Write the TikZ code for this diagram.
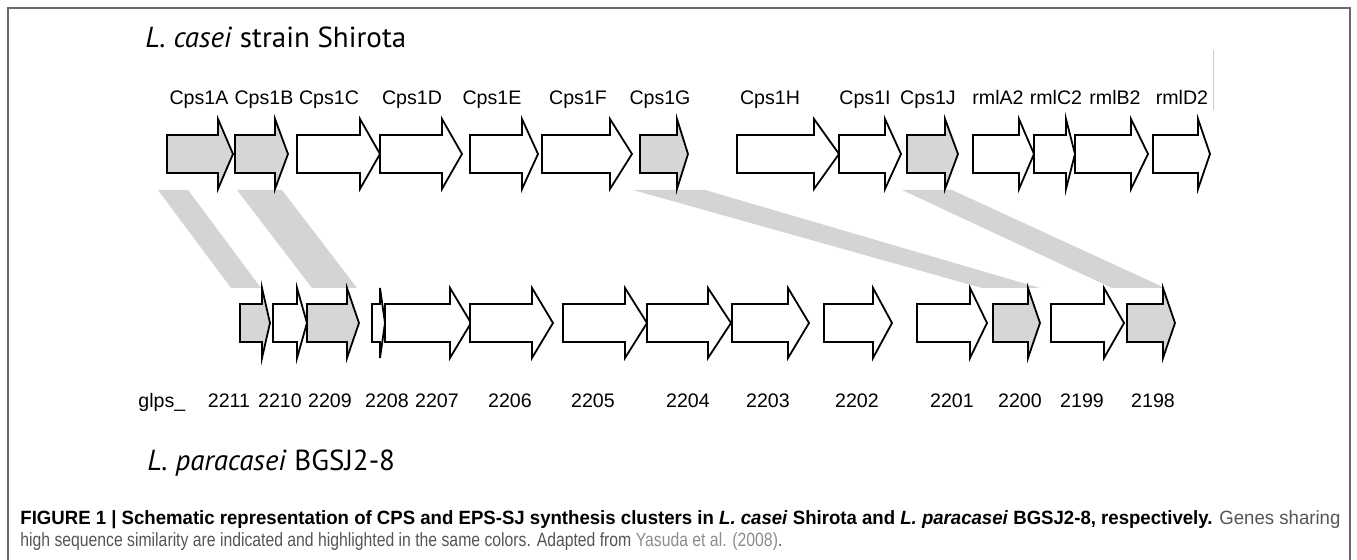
\documentclass[tikz,border=0pt]{standalone}
\usepackage{fontspec}
\setmainfont{Liberation Sans}
\newfontfamily\strainfont{PT Sans}
\usepackage{graphicx}

\definecolor{genegray}{RGB}{214,214,214}
\definecolor{bandgray}{RGB}{212,212,212}
\definecolor{framegray}{RGB}{105,105,105}
\definecolor{capgray}{RGB}{85,85,85}
\definecolor{refgray}{RGB}{140,140,140}

\tikzset{
  gene/.style={draw=black, line width=0.9pt, line join=miter},
  band/.style={fill=bandgray, draw=none},
  genelabel/.style={anchor=base, inner sep=0pt, font=\fontsize{9.8}{12}\selectfont},
  strainlabel/.style={anchor=base west, inner sep=0pt, font=\strainfont\fontsize{14.5}{17}\selectfont},
  caption/.style={anchor=base west, inner sep=0pt, font=\fontsize{9.6}{11}\selectfont},
}

\begin{document}
\begin{tikzpicture}[x=0.5pt, y=-0.5pt]

        \useasboundingbox (0,0) rectangle (1357,560);

        % Frame
        \draw[framegray, line width=0.6pt] (8,560) -- (8,8) -- (1350,8) -- (1350,560);
        \draw[black!20, line width=0.4pt] (1213,50) -- (1213,110);

        % Strain names
        \node[strainlabel] (shirota) at (145,48) {\textit{L. casei} strain Shirota};
        \node[strainlabel] (bgsj) at (147,471) {\textit{L. paracasei} BGSJ2-8};

        % Similarity bands
        \fill[band] (158,190) -- (188,190) -- (261,288) -- (231,288) -- cycle;
        \fill[band] (237,190) -- (282,190) -- (357,288) -- (312,288) -- cycle;
        \fill[band] (633,190) -- (705,190) -- (1040,288) -- (982,288) -- cycle;
        \fill[band] (902,190) -- (952,190) -- (1165,288) -- (1112,288) -- cycle;

        % Cps genes (top row)
        \foreach \l/\b/\t/\c in {167/218/233/genegray, 235/275/288/genegray, 297/360/380/white,
            380/442/462/white, 470/522/538/white, 542/610/632/white, 640/677/688/genegray,
            737/814/839/white, 839/885/901/white, 907/945/958/genegray, 973/1019/1034/white,
            1034/1066/1075/white, 1075/1131/1148/white, 1153/1198/1210/white}
            \draw[gene, fill=\c] (\l,135) -- (\b,135) -- (\b,119) -- (\t,154)
                -- (\b,189) -- (\b,173) -- (\l,173) -- cycle;

        % glps genes (bottom row)
        \foreach \l/\b/\t/\c in {240/262/270/genegray, 273/297/307/white, 307/347/359/genegray,
            372/380/385/white, 385/450/471/white, 470/532/553/white, 563/625/647/white,
            647/708/731/white, 732/788/809/white, 824/873/892/white, 917/970/987/white,
            993/1028/1040/genegray, 1051/1104/1124/white, 1127/1163/1175/genegray}
            \draw[gene, fill=\c] (\l,304) -- (\b,304) -- (\b,288) -- (\t,323)
                -- (\b,358) -- (\b,342) -- (\l,342) -- cycle;

        % Labels for genes
        \foreach \x/\n/\txt in {199/cA/Cps1A, 264/cB/Cps1B, 329/cC/Cps1C, 412/cD/Cps1D,
            492/cE/Cps1E, 578/cF/Cps1F, 660/cG/Cps1G, 770/cH/Cps1H, 865/cI/Cps1I,
            928/cJ/Cps1J, 998/rA/rmlA2, 1056/rC/rmlC2, 1115/rB/rmlB2, 1182/rD/rmlD2}
            \node[genelabel] (\n) at (\x,105) {\txt};

        \node[genelabel, anchor=base west] (glps) at (138,408) {glps\_};
        \foreach \x/\txt in {229/2211, 280/2210, 330/2209, 387/2208, 437/2207, 510/2206,
            593/2205, 688/2204, 768/2203, 857/2202, 952/2201, 1020/2200, 1082/2199, 1153/2198}
            \node[genelabel] (g\txt) at (\x,408) {\txt};

        % Caption
        \node[caption] (cap1) at (20,525) {\resizebox{660pt}{\height}{\textbf{FIGURE 1 | Schematic representation of CPS and EPS-SJ synthesis clusters in \textit{L. casei} Shirota and \textit{L. paracasei} BGSJ2-8, respectively.} \textcolor{capgray}{Genes sharing}}};
        \node[caption, text=capgray] (cap2) at (20,547) {\resizebox{381pt}{\height}{high sequence similarity are indicated and highlighted in the same colors. Adapted from \textcolor{refgray}{Yasuda et al. (2008)}.}};

    \end{tikzpicture}
\end{document}
